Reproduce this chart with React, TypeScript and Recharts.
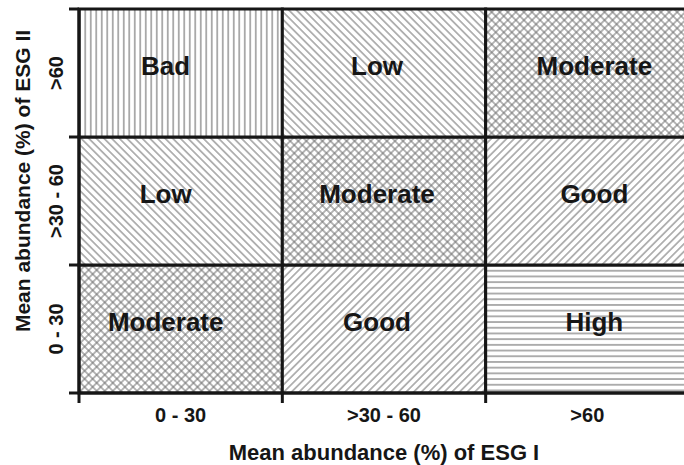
import { ComposedChart, XAxis, YAxis, Scatter, ReferenceArea, Label } from 'recharts';

// class bands on both axes
const xBands = ['0 - 30', '>30 - 60', '>60'];
const yBands = ['0 - 30', '>30 - 60', '>60'];

// ecological status per cell, rows from bottom (ESG II 0-30) to top (>60)
const statusRows = [
  ['Moderate', 'Good', 'High'],
  ['Low', 'Moderate', 'Good'],
  ['Bad', 'Low', 'Moderate'],
];

const xTicks = [0, 0.5, 1, 1.5, 2, 2.5, 3];
const yTicks = [0, 0.5, 1, 1.5, 2, 2.5, 3];

const patternOf: Record<string, string> = {
  Bad: 'pat-vert',
  Low: 'pat-back',
  Moderate: 'pat-cross',
  Good: 'pat-fwd',
  High: 'pat-horiz',
};

const FONT = '"Liberation Sans", Arial, sans-serif';
const INK = '#161616';
const HATCH = '#6f6f6f';
const colNudge = [-15, -7, 7];

const cells = statusRows.flatMap((row, yi) =>
  row.map((status, xi) => ({ xi, yi, x: xi + 0.5, y: yi + 0.5, status }))
);

const XTick = ({ x, y, payload }: any) => {
  const v = payload.value;
  if (Number.isInteger(v)) {
    return <line x1={x} x2={x} y1={y} y2={y + 10} stroke={INK} strokeWidth={3} />;
  }
  return (
    <text x={x} y={y + 29} textAnchor="middle" fontFamily={FONT} fontWeight="bold" fontSize={20} fill={INK}>
      {xBands[Math.floor(v)]}
    </text>
  );
};

const YTick = ({ x, y, payload }: any) => {
  const v = payload.value;
  if (Number.isInteger(v)) {
    return <line x1={x - 10} x2={x} y1={y} y2={y} stroke={INK} strokeWidth={3} />;
  }
  const tx = x - 16;
  return (
    <text x={tx} y={y} transform={`rotate(-90, ${tx}, ${y})`} textAnchor="middle" fontFamily={FONT} fontWeight="bold" fontSize={20} fill={INK}>
      {yBands[Math.floor(v)]}
    </text>
  );
};

const CellLabel = (xi: number, text: string) => ({ viewBox }: any) => {
  const { x, y, width, height } = viewBox;
  return (
    <text
      x={x + width / 2 + colNudge[xi]}
      y={y + height / 2 - 7}
      textAnchor="middle"
      dominantBaseline="central"
      fontFamily={FONT}
      fontWeight="bold"
      fontSize={26}
      fill={INK}
    >
      {text}
    </text>
  );
};

export default function App() {
  return (
    <div style={{ position: 'fixed', left: 0, top: 0, width: 684, height: 465, overflow: 'hidden', background: '#fff' }}>
      <ComposedChart width={700} height={465} margin={{ top: 9, right: 11, bottom: 5, left: 0 }}>
        <defs>
          <pattern id="pat-vert" width={5.5} height={10} patternUnits="userSpaceOnUse">
            <rect width={5.5} height={10} fill="#fff" />
            <line x1={2.75} x2={2.75} y1={0} y2={10} stroke={HATCH} strokeWidth={1.1} />
          </pattern>
          <pattern id="pat-horiz" width={10} height={5.7} patternUnits="userSpaceOnUse">
            <rect width={10} height={5.7} fill="#fff" />
            <line x1={0} x2={10} y1={2.85} y2={2.85} stroke={HATCH} strokeWidth={1.1} />
          </pattern>
          <pattern id="pat-fwd" width={5.4} height={10} patternUnits="userSpaceOnUse" patternTransform="rotate(45)">
            <rect width={5.4} height={10} fill="#fff" />
            <line x1={2.7} x2={2.7} y1={0} y2={10} stroke={HATCH} strokeWidth={1} />
          </pattern>
          <pattern id="pat-back" width={5.4} height={10} patternUnits="userSpaceOnUse" patternTransform="rotate(-45)">
            <rect width={5.4} height={10} fill="#fff" />
            <line x1={2.7} x2={2.7} y1={0} y2={10} stroke={HATCH} strokeWidth={1} />
          </pattern>
          <pattern id="pat-cross" width={5.7} height={5.7} patternUnits="userSpaceOnUse" patternTransform="rotate(45)">
            <rect width={5.7} height={5.7} fill="#fff" />
            <line x1={2.85} x2={2.85} y1={0} y2={5.7} stroke={HATCH} strokeWidth={1} />
            <line x1={0} x2={5.7} y1={2.85} y2={2.85} stroke={HATCH} strokeWidth={1} />
          </pattern>
        </defs>
        <XAxis
          type="number"
          dataKey="x"
          domain={[0, 3]}
          ticks={xTicks}
          interval={0}
          tick={<XTick />}
          tickLine={false}
          tickSize={0}
          tickMargin={0}
          axisLine={{ stroke: INK, strokeWidth: 3 }}
          height={67}
        >
          <Label
            content={({ viewBox }: any) => (
              <text
                x={viewBox.x + viewBox.width / 2}
                y={viewBox.y + 67}
                textAnchor="middle"
                fontFamily={FONT}
                fontWeight="bold"
                fontSize={22}
                fill={INK}
              >
                Mean abundance (%) of ESG I
              </text>
            )}
          />
        </XAxis>
        <YAxis
          type="number"
          dataKey="y"
          domain={[0, 3]}
          ticks={yTicks}
          interval={0}
          tick={<YTick />}
          tickLine={false}
          tickSize={0}
          tickMargin={0}
          axisLine={{ stroke: INK, strokeWidth: 3 }}
          width={79}
        >
          <Label
            content={({ viewBox }: any) => {
              const tx = viewBox.x + 30;
              const ty = viewBox.y + viewBox.height / 2 - 20;
              return (
                <text
                  x={tx}
                  y={ty}
                  transform={`rotate(-90, ${tx}, ${ty})`}
                  textAnchor="middle"
                  fontFamily={FONT}
                  fontWeight="bold"
                  fontSize={21}
                  fill={INK}
                >
                  Mean abundance (%) of ESG II
                </text>
              );
            }}
          />
        </YAxis>
        {cells.map((c) => (
          <ReferenceArea
            key={`${c.xi}-${c.yi}`}
            x1={c.xi}
            x2={c.xi + 1}
            y1={c.yi}
            y2={c.yi + 1}
            fill={`url(#${patternOf[c.status]})`}
            fillOpacity={1}
            stroke={INK}
            strokeWidth={3}
            label={CellLabel(c.xi, c.status)}
          />
        ))}
        <Scatter data={cells} dataKey="y" fill="none" shape={() => <g />} isAnimationActive={false} />
      </ComposedChart>
    </div>
  );
}
